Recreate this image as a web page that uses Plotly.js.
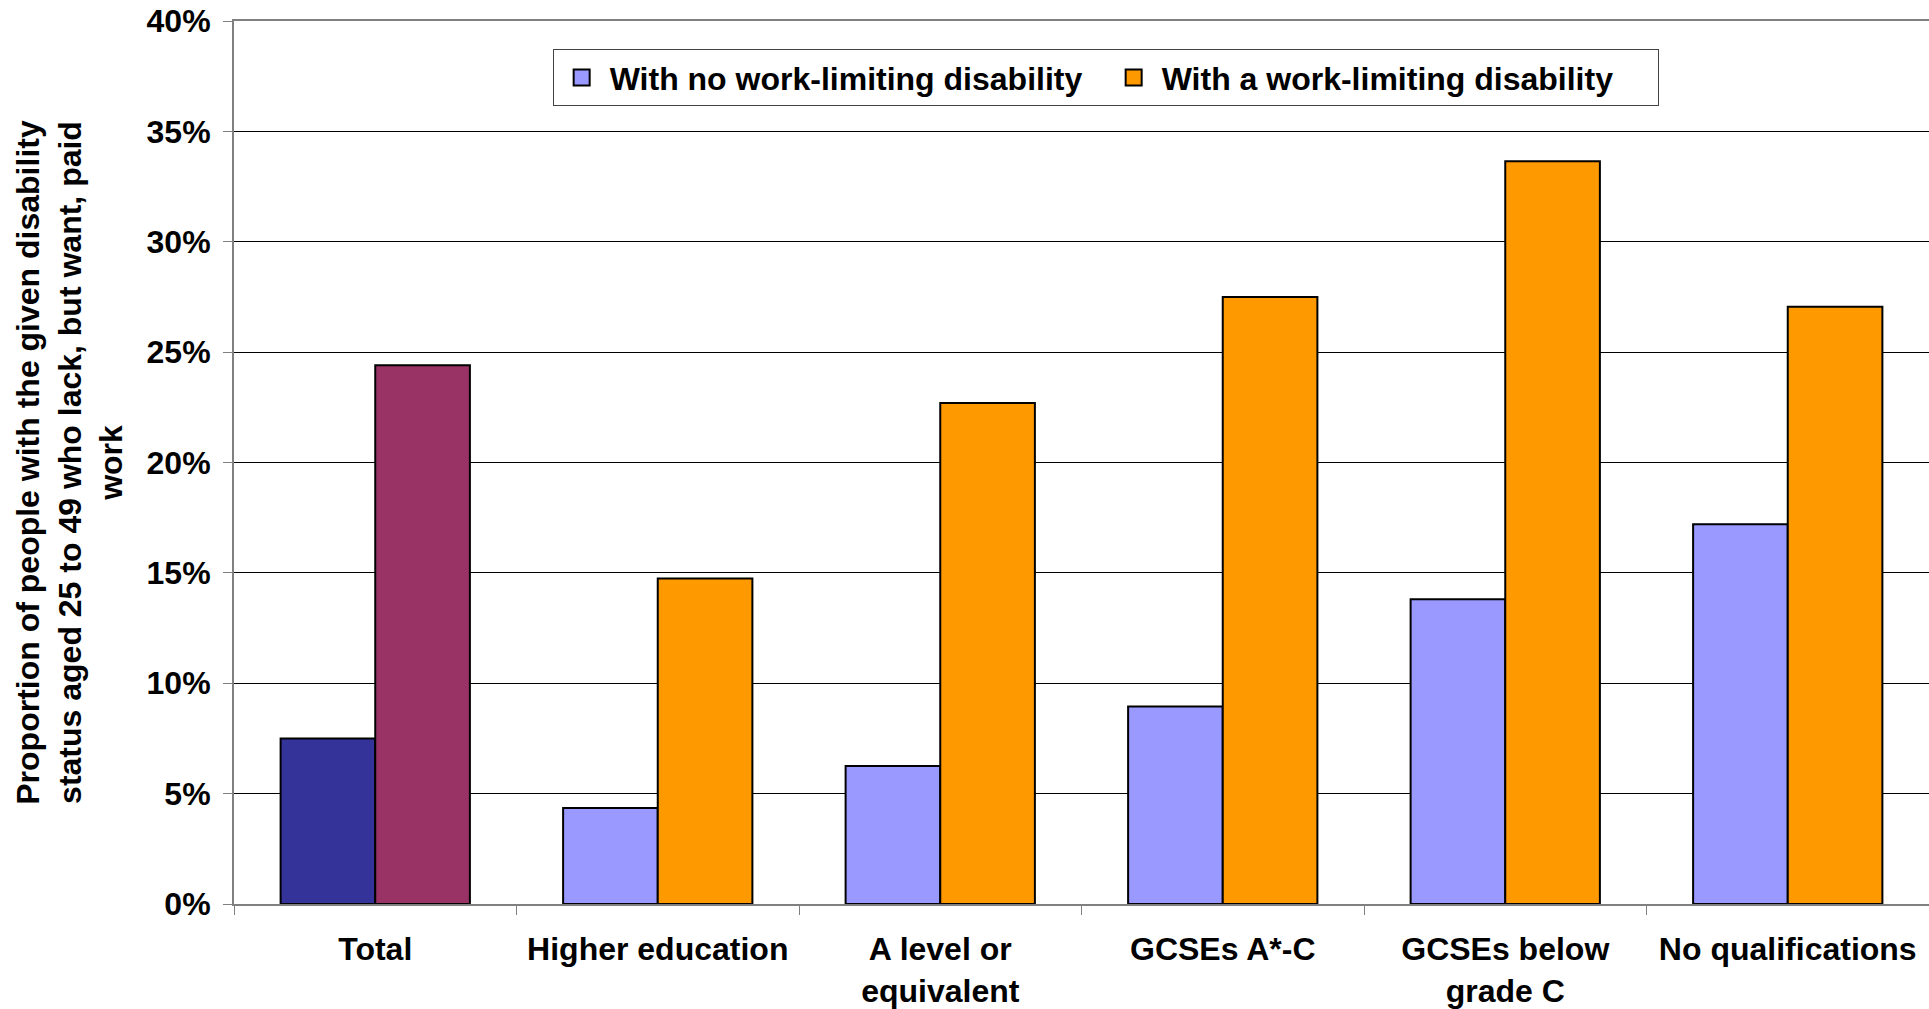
<!DOCTYPE html>
<html><head><meta charset="utf-8">
<script src="https://cdn.plot.ly/plotly-3.0.1.min.js"></script>
<style>html,body{margin:0;padding:0;background:#fff}</style>
</head><body><div id="chart" style="width:1929px;height:1009px"></div>
<script>
const categories = ["Total", "Higher education", "A level or<br>equivalent", "GCSEs A*-C", "GCSEs below<br>grade C", "No qualifications"];
const noDisability = [7.5, 4.35, 6.25, 8.95, 13.8, 17.2];
const withDisability = [24.4, 14.75, 22.7, 27.5, 33.65, 27.05];
const seriesNames = ["With no work-limiting disability", "With a work-limiting disability"];
const tickValues = [0, 5, 10, 15, 20, 25, 30, 35, 40];
const tickLabels = tickValues.map(v => v + "%");

const FONT = "Liberation Sans, Arial, sans-serif";
const FS = 32;
const outline = {color: "#000", width: 2};
const boldFont = {family: FONT, size: FS, color: "#000", weight: "bold"};

const traces = [
  {type: "bar", x: [categories[0]], y: [noDisability[0]], name: seriesNames[0], offsetgroup: "a",
   showlegend: false, marker: {color: "#333399", line: outline}},
  {type: "bar", x: [categories[0]], y: [withDisability[0]], name: seriesNames[1], offsetgroup: "b",
   showlegend: false, marker: {color: "#993366", line: outline}},
  {type: "bar", x: categories.slice(1), y: noDisability.slice(1), name: seriesNames[0], offsetgroup: "a",
   showlegend: false, marker: {color: "#9999FF", line: outline}},
  {type: "bar", x: categories.slice(1), y: withDisability.slice(1), name: seriesNames[1], offsetgroup: "b",
   showlegend: false, marker: {color: "#FF9900", line: outline}},
  // legend-only entries (larger square swatches)
  {type: "scatter", mode: "markers", x: [null], y: [null], name: seriesNames[0],
   marker: {symbol: "square", size: 16, color: "#9999FF", line: {color: "#000", width: 2}}},
  {type: "scatter", mode: "markers", x: [null], y: [null], name: seriesNames[1],
   marker: {symbol: "square", size: 16, color: "#FF9900", line: {color: "#000", width: 2}}}
];

const layout = {
  width: 1929, height: 1009,
  margin: {l: 234, r: 0, t: 21, b: 105},
  paper_bgcolor: "#fff", plot_bgcolor: "#fff",
  barmode: "group", bargap: 0.33, bargroupgap: 0,
  font: boldFont,
  xaxis: {
    type: "category", categoryorder: "array", categoryarray: categories,
    tickson: "boundaries", ticks: "outside", ticklen: 9, tickcolor: "#808080", tickwidth: 1,
    showline: true, linecolor: "#808080", linewidth: 2, mirror: true,
    showgrid: false, ticklabelstandoff: 16,
    tickfont: boldFont
  },
  yaxis: {
    range: [0, 40], tickmode: "array", tickvals: tickValues, ticktext: tickLabels,
    ticks: "outside", ticklen: 9, tickcolor: "#808080", tickwidth: 1,
    showline: true, linecolor: "#808080", linewidth: 2,
    showgrid: true, gridcolor: "#000", gridwidth: 1, zeroline: false,
    tickfont: boldFont, ticklabelstandoff: 6,
    title: {text: "Proportion of people with the given disability<br>status aged 25 to 49 who lack, but want, paid<br>work",
            font: boldFont, standoff: 14},
    automargin: false
  },
  legend: {
    orientation: "h", x: 0.188, xanchor: "left", y: 0.968, yanchor: "top",
    bgcolor: "#fff", bordercolor: "#444", borderwidth: 1,
    font: boldFont, traceorder: "normal", itemwidth: 46, itemsizing: "trace",
    entrywidth: 491, entrywidthmode: "pixels"
  },
  showlegend: true
};

Plotly.newPlot("chart", traces, layout, {displayModeBar: false, staticPlot: true});
</script></body></html>
